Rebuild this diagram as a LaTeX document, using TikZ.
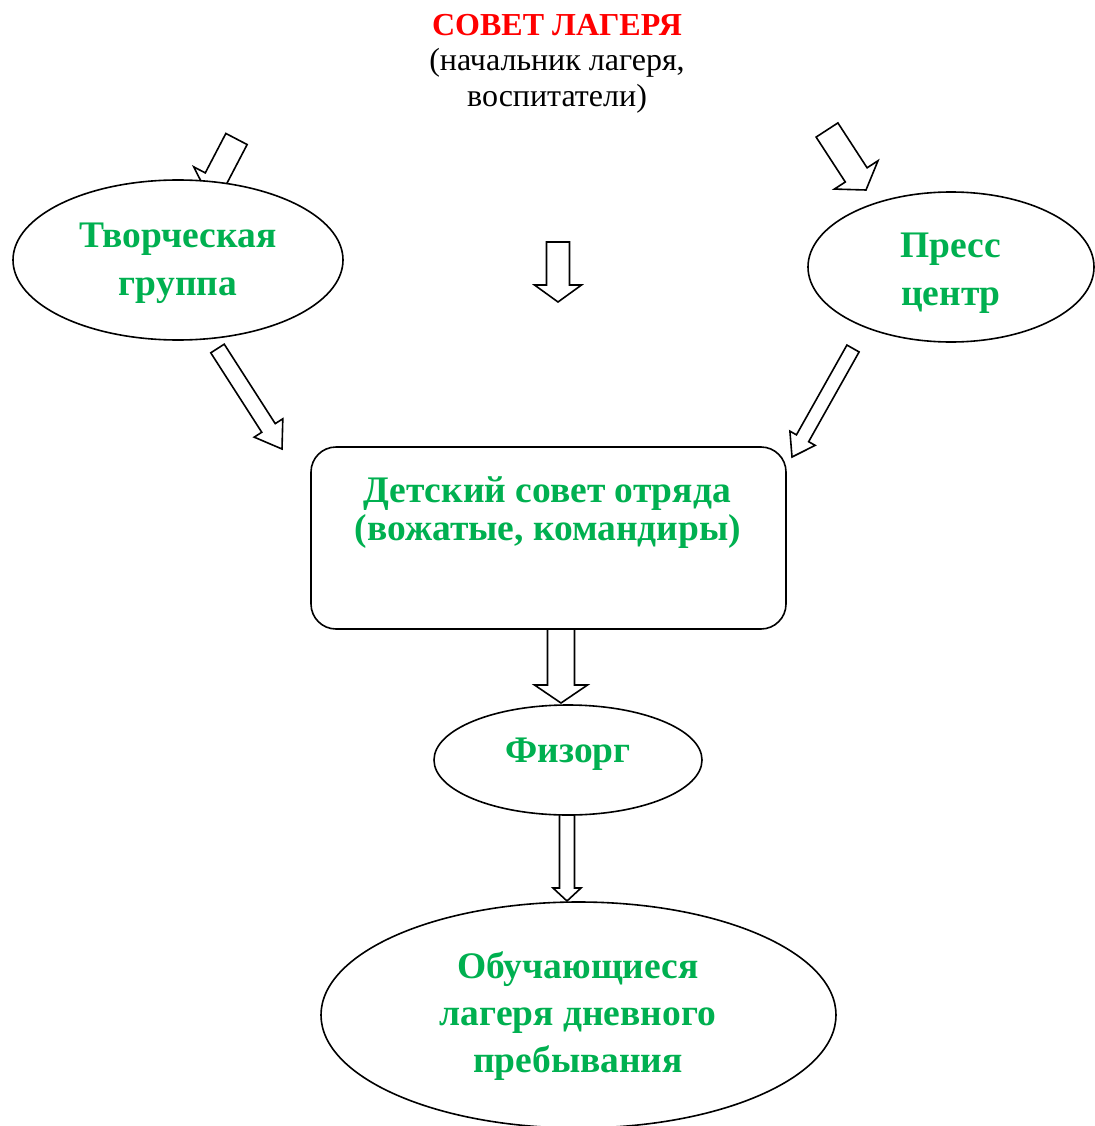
\documentclass[tikz,border=0pt]{standalone}
\usepackage{fontspec}
\setmainfont{Liberation Serif}
\usetikzlibrary{calc,shapes.geometric}
\definecolor{wgreen}{RGB}{0,176,80}
\definecolor{wred}{RGB}{255,0,0}
\tikzset{
  shapeline/.style={draw=black, line width=1.6pt, fill=white, inner sep=0pt},
  oval/.style={shapeline, ellipse},
  blockarr/.style={draw=black, line width=1.6pt, fill=white, line join=miter},
  gtext/.style={text=wgreen, font=\fontsize{37.5}{41}\selectfont\bfseries, inner sep=0pt, anchor=base},
  rtext/.style={text=wred, font=\fontsize{32}{36}\selectfont\bfseries, inner sep=0pt, anchor=base},
  btext/.style={text=black, font=\fontsize{32}{36}\selectfont, inner sep=0pt, anchor=base}
}
\newcommand\blockarrow[5]{%
  \path ($(#2)!#5!(#1)$) coordinate (bah);
  \draw[blockarr] ($(#1)!#3!90:(#2)$) -- ($(bah)!#3!90:(#2)$) -- ($(bah)!#4!90:(#2)$) -- (#2)
    -- ($(bah)!#4!-90:(#2)$) -- ($(bah)!#3!-90:(#2)$) -- ($(#1)!#3!-90:(#2)$) -- cycle;
}
\begin{document}
\begin{tikzpicture}[x=1pt,y=1pt]
\useasboundingbox (0,0) rectangle (1094,-1126);
% arrow end points
\coordinate (a1s) at (236.5,-139);  \coordinate (a1e) at (207.6,-194.4);
\coordinate (a2s) at (827,-130);    \coordinate (a2e) at (866,-190);
\coordinate (a3s) at (558,-242);    \coordinate (a3e) at (558,-302);
\coordinate (a4s) at (217.5,-348.5);\coordinate (a4e) at (282,-449);
\coordinate (a5s) at (853,-348.5);  \coordinate (a5e) at (792,-457);
\coordinate (a6s) at (561,-620);    \coordinate (a6e) at (561,-703);
\coordinate (a7s) at (567,-805);    \coordinate (a7e) at (567,-901);
\blockarrow{a1s}{a1e}{12pt}{25pt}{18pt}
\blockarrow{a2s}{a2e}{13pt}{26pt}{18pt}
\blockarrow{a3s}{a3e}{11.5pt}{23.5pt}{17pt}
\blockarrow{a4s}{a4e}{8pt}{17pt}{25pt}
\blockarrow{a5s}{a5e}{7pt}{14.5pt}{21.5pt}
\blockarrow{a6s}{a6e}{13.5pt}{26.5pt}{18pt}
\blockarrow{a7s}{a7e}{7.5pt}{14pt}{13pt}
% shapes
\node[oval, minimum width=330pt, minimum height=160pt] (tvor) at (178,-260) {};
\node[oval, minimum width=286pt, minimum height=150pt] (press) at (951,-267) {};
\node[shapeline, rectangle, rounded corners=25pt, minimum width=475pt, minimum height=182pt] (sovet) at (548.5,-538) {};
\node[oval, minimum width=268pt, minimum height=110pt] (fiz) at (568,-760) {};
\node[oval, minimum width=515pt, minimum height=226pt] (obuch) at (578.5,-1015) {};
% texts
\node[rtext] (t0) at (557,-36) {СОВЕТ ЛАГЕРЯ};
\node[btext] (t0b) at (557,-71) {(начальник лагеря,};
\node[btext] (t0c) at (557,-107) {воспитатели)};
\node[gtext] (tv1) at (178,-247) {Творческая};
\node[gtext] (tv2) at (178,-295) {группа};
\node[gtext] (pr1) at (951,-257) {Пресс};
\node[gtext] (pr2) at (951,-305) {центр};
\node[gtext] (ds1) at (547,-502) {Детский совет отряда};
\node[gtext] (ds2) at (548,-540) {(вожатые, командиры)};
\node[gtext] (fz1) at (568,-762) {Физорг};
\node[gtext] (ob1) at (578,-978) {Обучающиеся};
\node[gtext] (ob2) at (578,-1025) {лагеря дневного};
\node[gtext] (ob3) at (578,-1072) {пребывания};
\end{tikzpicture}
\end{document}
